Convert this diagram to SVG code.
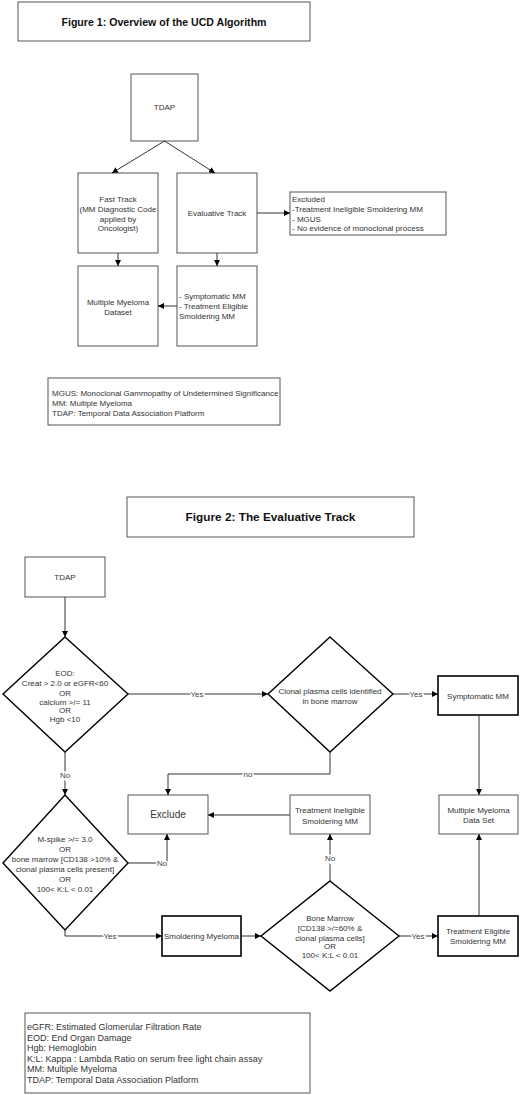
<svg xmlns="http://www.w3.org/2000/svg" width="520" height="1095" viewBox="0 0 520 1095">
<defs>
<marker id="ah" viewBox="0 0 10 10" refX="10" refY="5" markerWidth="6" markerHeight="6" markerUnits="userSpaceOnUse" orient="auto">
<path d="M0,0 L10,5 L0,10 Z" fill="#000"/>
</marker>
<style>
.box{fill:#fff;stroke:#555;stroke-width:1}
.thick{fill:#fff;stroke:#000;stroke-width:1.6}
.dia{fill:#fff;stroke:#000;stroke-width:1.4}
.t{font-family:"Liberation Sans",Arial,sans-serif;font-size:8px;fill:#333;text-anchor:middle}
.l{font-family:"Liberation Sans",Arial,sans-serif;font-size:8px;fill:#333}
.l2{font-family:"Liberation Sans",Arial,sans-serif;font-size:9px;fill:#333}
.ti{font-family:"Liberation Sans",Arial,sans-serif;font-size:10.6px;font-weight:bold;fill:#111;text-anchor:middle}
.lab{font-family:"Liberation Sans",Arial,sans-serif;font-size:8px;fill:#444;text-anchor:middle;stroke:#fff;stroke-width:3px;paint-order:stroke}
.c{fill:none;stroke:#333;stroke-width:1}
</style>
</defs>
<rect width="520" height="1095" fill="#fff"/>

<g id="fig1-title"><rect class="box" x="18" y="2" width="292" height="39"/><text class="ti" x="164" y="25.5">Figure 1: Overview of the UCD Algorithm</text></g>
<g id="f1-tdap"><rect class="box" x="131" y="74" width="67" height="67"/><text class="t" x="164.5" y="110">TDAP</text></g>
<g id="f1-fast"><rect class="box" x="78" y="173" width="80" height="80"/>
<text class="t" x="118" y="202">Fast Track</text><text class="t" x="118" y="212">(MM Diagnostic Code</text><text class="t" x="118" y="222">applied by</text><text class="t" x="118" y="231">Oncologist)</text></g>
<g id="f1-eval"><rect class="box" x="177" y="173" width="80" height="80"/><text class="t" x="217" y="216">Evaluative Track</text></g>
<g id="f1-excl"><rect class="box" x="290" y="192" width="156" height="43"/>
<text class="l" x="292" y="202">Excluded</text><text class="l" x="292" y="212">-Treatment Ineligible Smoldering MM</text><text class="l" x="292" y="222">- MGUS</text><text class="l" x="292" y="231">- No evidence of monoclonal process</text></g>
<g id="f1-mmds"><rect class="box" x="78" y="266" width="80" height="80"/><text class="t" x="118" y="305">Multiple Myeloma</text><text class="t" x="118" y="315">Dataset</text></g>
<g id="f1-symp"><rect class="box" x="177" y="266" width="80" height="80"/>
<text class="l" x="179" y="299">- Symptomatic MM</text><text class="l" x="179" y="309">- Treatment Eligible</text><text class="l" x="179" y="319">Smoldering MM</text></g>
<g id="f1-legend"><rect class="box" x="48" y="378" width="232" height="47"/>
<text class="l" x="52" y="396">MGUS: Monoclonal Gammopathy of Undetermined Significance</text>
<text class="l" x="52" y="406">MM: Multiple Myeloma</text>
<text class="l" x="52" y="416">TDAP: Temporal Data Association Platform</text></g>

<g id="fig2-title"><rect class="box" x="127" y="497" width="287" height="40"/><text class="ti" x="270.5" y="521" style="font-size:11.8px">Figure 2: The Evaluative Track</text></g>
<g id="f2-tdap"><rect class="box" x="25" y="557" width="80" height="40"/><text class="t" x="65" y="580">TDAP</text></g>
<g id="f2-eod"><polygon class="dia" points="65,637 128,694 65,752 3,694"/>
<text class="t" x="65" y="676">EOD:</text><text class="t" x="65" y="686">Creat &gt; 2.0 or eGFR&lt;60</text><text class="t" x="65" y="696">OR</text><text class="t" x="65" y="705">calcium &gt;/= 11</text><text class="t" x="65" y="713">OR</text><text class="t" x="65" y="722">Hgb &lt;10</text></g>
<g id="f2-clonal"><polygon class="dia" points="330,637 393,694 330,752 268,694"/>
<text class="t" x="330" y="694">Clonal plasma cells identified</text><text class="t" x="330" y="704">in bone marrow</text></g>
<g id="f2-symp"><rect class="thick" x="438" y="676" width="80" height="39"/><text class="t" x="478" y="699">Symptomatic MM</text></g>
<g id="f2-exclude"><rect class="box" x="128" y="795" width="80" height="39"/><text class="t" x="168" y="818" style="font-size:10px">Exclude</text></g>
<g id="f2-tism"><rect class="box" x="290" y="795" width="80" height="39"/><text class="t" x="330" y="813">Treatment Ineligible</text><text class="t" x="330" y="824">Smoldering MM</text></g>
<g id="f2-mmds"><rect class="box" x="439" y="795" width="79" height="39"/><text class="t" x="478.5" y="813">Multiple Myeloma</text><text class="t" x="478.5" y="823">Data Set</text></g>
<g id="f2-mspike"><polygon class="dia" points="65,795 128,863 65,930 3,863"/>
<text class="t" x="65" y="842">M-spike &gt;/= 3.0</text><text class="t" x="65" y="852">OR</text><text class="t" x="65" y="862">bone marrow [CD138 &gt;10% &amp;</text><text class="t" x="65" y="872">clonal plasma cells present]</text><text class="t" x="65" y="882">OR</text><text class="t" x="65" y="892">100&lt; K:L &lt; 0.01</text></g>
<g id="f2-smold"><rect class="thick" x="162" y="916" width="79" height="40"/><text class="t" x="201.5" y="939">Smoldering Myeloma</text></g>
<g id="f2-bm"><polygon class="dia" points="330,881 399,936 330,991 261,936"/>
<text class="t" x="330" y="921">Bone Marrow</text><text class="t" x="330" y="931">[CD138 &gt;/=60% &amp;</text><text class="t" x="330" y="941">clonal plasma cells]</text><text class="t" x="330" y="949">OR</text><text class="t" x="330" y="958">100&lt; K:L &lt; 0.01</text></g>
<g id="f2-tesm"><rect class="thick" x="438" y="916" width="80" height="40"/><text class="t" x="478" y="934">Treatment Eligible</text><text class="t" x="478" y="944">Smoldering MM</text></g>
<g id="f2-legend"><rect class="box" x="25" y="1013" width="285" height="80"/>
<text class="l2" x="27" y="1030">eGFR: Estimated Glomerular Filtration Rate</text>
<text class="l2" x="27" y="1040.5">EOD: End Organ Damage</text>
<text class="l2" x="27" y="1051">Hgb: Hemoglobin</text>
<text class="l2" x="27" y="1061.5">K:L: Kappa : Lambda Ratio on serum free light chain assay</text>
<text class="l2" x="27" y="1072">MM: Multiple Myeloma</text>
<text class="l2" x="27" y="1082.5">TDAP: Temporal Data Association Platform</text></g>

<g id="connectors">
<path class="c" d="M164.5,141 L112,173" marker-end="url(#ah)"/>
<path class="c" d="M164.5,141 L215,173" marker-end="url(#ah)"/>
<path class="c" d="M257,213 L290,213" marker-end="url(#ah)"/>
<path class="c" d="M118,253 L118,266" marker-end="url(#ah)"/>
<path class="c" d="M217,253 L217,266" marker-end="url(#ah)"/>
<path class="c" d="M177,306 L158,306" marker-end="url(#ah)"/>
<path class="c" d="M65,597 L65,637" marker-end="url(#ah)"/>
<path class="c" d="M128,694 L268,694" marker-end="url(#ah)"/>
<path class="c" d="M393,694 L438,694" marker-end="url(#ah)"/>
<path class="c" d="M479,715 L479,795" marker-end="url(#ah)"/>
<path class="c" d="M65,752 L65,795" marker-end="url(#ah)"/>
<path class="c" d="M330,752 L330,774 L168,774 L168,795" marker-end="url(#ah)"/>
<path class="c" d="M290,815 L208,815" marker-end="url(#ah)"/>
<path class="c" d="M128,863 L167,863 L167,834" marker-end="url(#ah)"/>
<path class="c" d="M65,930 L65,936 L162,936" marker-end="url(#ah)"/>
<path class="c" d="M241,936 L261,936" marker-end="url(#ah)"/>
<path class="c" d="M330,881 L330,834" marker-end="url(#ah)"/>
<path class="c" d="M399,936 L438,936" marker-end="url(#ah)"/>
<path class="c" d="M479,916 L479,834" marker-end="url(#ah)"/>
<text class="lab" x="197" y="697">Yes</text>
<text class="lab" x="416" y="697">Yes</text>
<text class="lab" x="65" y="778">No</text>
<text class="lab" x="248" y="777">no</text>
<text class="lab" x="162" y="866">No</text>
<text class="lab" x="110" y="939">Yes</text>
<text class="lab" x="330" y="861">No</text>
<text class="lab" x="418" y="939">Yes</text>
</g>
</svg>
